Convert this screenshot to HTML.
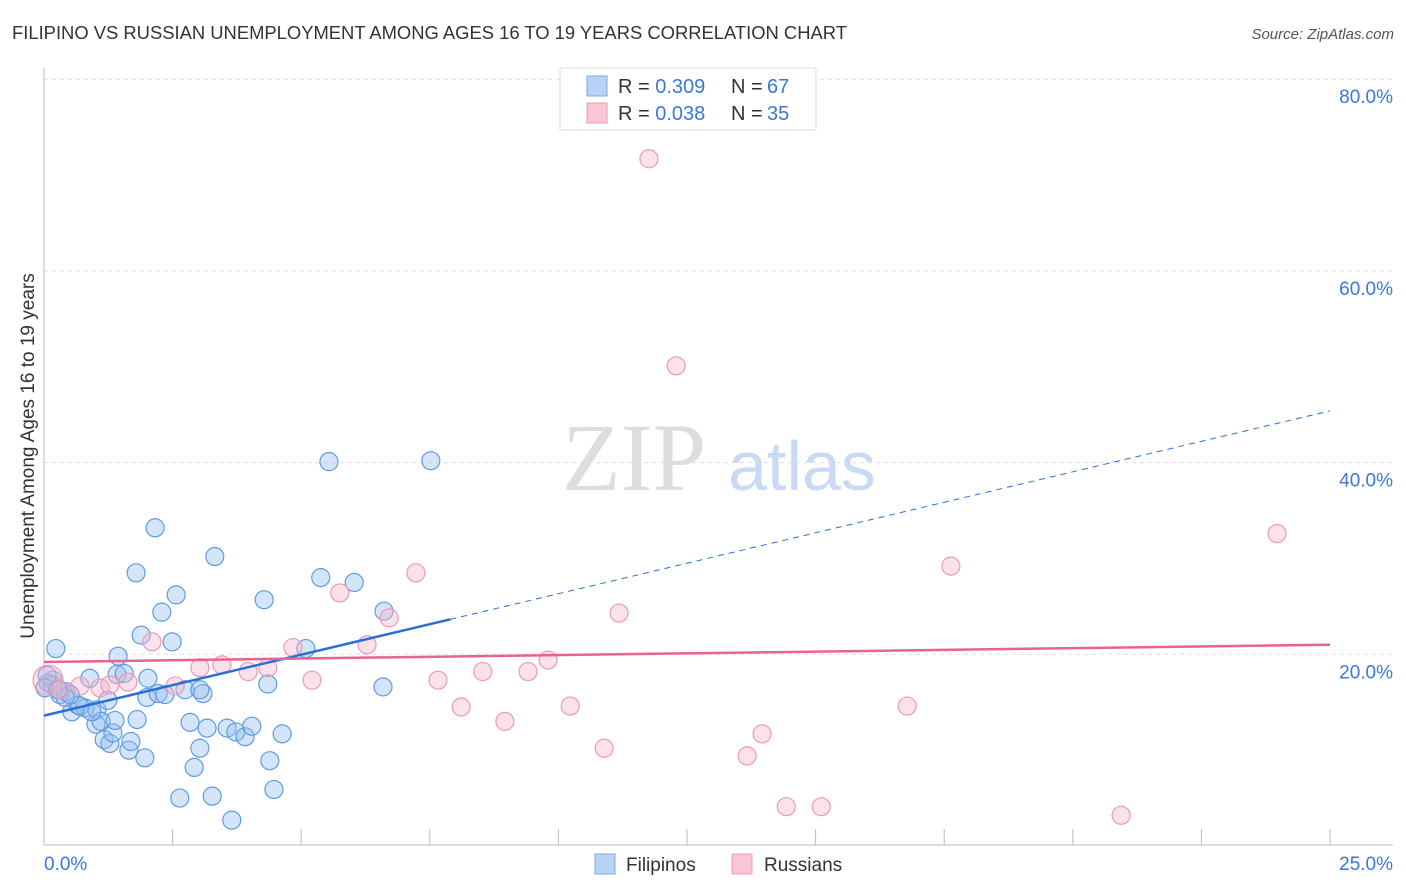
<!DOCTYPE html>
<html><head><meta charset="utf-8"><style>
body{margin:0;background:#fff;font-family:"Liberation Sans",sans-serif}
svg{display:block}
</style></head><body>
<svg id="c" width="1406" height="892">
<text x="12" y="39" font-size="18.4" fill="#333">FILIPINO VS RUSSIAN UNEMPLOYMENT AMONG AGES 16 TO 19 YEARS CORRELATION CHART</text>
<text x="1394" y="39" font-size="15" fill="#555" font-style="italic" text-anchor="end">Source: ZipAtlas.com</text>
<text x="34" y="456" font-size="19" fill="#333" text-anchor="middle" transform="rotate(-90 34 456)">Unemployment Among Ages 16 to 19 years</text>
<g>
<text x="634" y="490" font-size="96" fill="#ddd" font-family="Liberation Serif" text-anchor="middle">ZIP</text>
<text x="802" y="490" font-size="70" fill="#c9dbf3" text-anchor="middle">atlas</text>
</g>
<g id="grid"></g><g id="axes"></g><g id="pts"></g><g id="lines"></g>
<g>
<rect x="560" y="68" width="256" height="62" fill="#fff" stroke="#ddd"/>
<rect x="587" y="76" width="20" height="20" fill="#b9d3f5" stroke="#7aaae8"/>
<text x="618" y="93" font-size="20" fill="#333">R = <tspan fill="#3b78d8">0.309</tspan></text>
<text x="731" y="93" font-size="20" fill="#333">N = </text>
<text x="767" y="93" font-size="20" fill="#3b78d8">67</text>
<rect x="587" y="103" width="20" height="20" fill="#f8c6d4" stroke="#ee9bb5"/>
<text x="618" y="120" font-size="20" fill="#333">R = <tspan fill="#3b78d8">0.038</tspan></text>
<text x="731" y="120" font-size="20" fill="#333">N = </text>
<text x="767" y="120" font-size="20" fill="#3b78d8">35</text>
</g>
<g>
<rect x="595" y="854" width="20" height="20" fill="#b9d3f5" stroke="#7aaae8"/>
<text x="626" y="871" font-size="19" fill="#333">Filipinos</text>
<rect x="732" y="854" width="20" height="20" fill="#f8c6d4" stroke="#ee9bb5"/>
<text x="764" y="871" font-size="19" fill="#333">Russians</text>
</g>
</svg>
<script>
const yTicks=[20,40,60,80];
const yTickLabels=["20.0%","40.0%","60.0%","80.0%"];
const xTicks=[0,2.5,5,7.5,10,12.5,15,17.5,20,22.5,25];
const blueX=[0.17,0.23,0.08,0.31,0.43,0.54,0.66,0.80,0.89,1.03,1.01,1.11,1.17,1.28,1.34,1.44,1.42,1.56,1.65,1.69,1.81,1.79,1.89,1.96,2.00,2.02,2.16,2.22,2.29,2.35,2.49,2.57,2.64,2.74,2.84,2.92,3.03,3.09,3.17,3.27,3.32,3.56,3.65,3.73,3.91,4.04,4.28,4.35,4.39,4.47,4.63,5.09,5.38,5.54,6.03,6.59,6.61,7.52,0.16,0.06,0.41,0.70,0.93,1.24,1.38,3.03,0.51,0.02,0.27];
const blueY=[17.3,20.6,17.0,15.8,16.1,14.0,14.7,14.4,17.5,14.2,12.7,13.0,11.1,10.7,11.8,19.8,17.9,18.0,10.0,10.9,13.2,28.5,22.0,9.2,15.5,17.5,33.2,15.9,24.4,15.8,21.3,26.2,5.0,16.3,12.9,8.2,10.2,15.9,12.3,5.2,30.2,12.3,2.7,11.9,11.4,12.5,25.7,16.9,8.9,5.9,11.7,20.6,28.0,40.1,27.5,16.6,24.5,40.2,16.8,17.8,15.5,14.6,14.0,15.2,13.1,16.3,15.8,16.5,16.3];
const pinkX=[0.08,0.31,0.70,1.09,1.28,1.63,2.10,2.55,3.03,3.46,3.97,4.35,4.84,5.21,5.75,6.28,6.71,7.23,7.66,8.11,8.53,8.96,9.41,9.80,10.23,10.89,11.18,11.76,12.29,13.67,13.96,14.43,15.11,16.78,17.63,20.94,23.97];
const pinkY=[17.3,16.3,16.7,16.5,16.8,17.1,21.3,16.7,18.6,18.9,18.2,18.6,20.7,17.3,26.4,21.0,23.8,28.5,17.3,14.5,18.2,13.0,18.2,19.4,14.6,10.2,24.3,71.7,50.1,9.4,11.7,4.1,4.1,14.6,29.2,3.2,32.6];
const blueFit=[13.6,45.4,7.9];
const pinkFit=[19.2,21.0];
const X=v=>44+v/25*1286, Y=v=>846-v/20*191.7;
const NS="http://www.w3.org/2000/svg";
function mk(p,t,a){const e=document.createElementNS(NS,t);for(const k in a)e.setAttribute(k,a[k]);p.appendChild(e);return e;}
const g=document.getElementById('grid'),ax=document.getElementById('axes'),pts=document.getElementById('pts'),ln=document.getElementById('lines');
yTicks.forEach((t,i)=>{const l=mk(g,'line',{x1:44,x2:1393,y1:Y(t),y2:Y(t),stroke:'#ddd','stroke-dasharray':'4 4'});


const tx=mk(g,'text',{x:1393,y:Y(t)+24,'font-size':19,fill:'#3b78d8','text-anchor':'end'});tx.textContent=yTickLabels[i];

});
const a1=mk(ax,'line',{x1:44,x2:44,y1:68,y2:845,stroke:'#bbb'});


const a2=mk(ax,'line',{x1:44,x2:1393,y1:845,y2:845,stroke:'#bbb'});


xTicks.forEach(t=>{const l=mk(ax,'line',{x1:X(t),x2:X(t),y1:829,y2:845,stroke:'#bbb'});

});
const xl0=mk(ax,'text',{x:44,y:870,'font-size':19,fill:'#3b78d8'});xl0.textContent='0.0%';


const xl1=mk(ax,'text',{x:1393,y:870,'font-size':19,fill:'#3b78d8','text-anchor':'end'});xl1.textContent='25.0%';


blueX.forEach((x,i)=>{const c=mk(pts,'circle',{cx:X(x),cy:Y(blueY[i]),r:9,fill:'rgba(150,190,240,0.4)',stroke:'#5e9be3','stroke-width':1.2});

});
pinkX.forEach((x,i)=>{const c=mk(pts,'circle',{cx:X(x),cy:Y(pinkY[i]),r:i==0?15:9,fill:'rgba(246,180,200,0.4)',stroke:'#ec9ab4','stroke-width':1.2});

});
const by=x=>blueFit[0]+(blueFit[1]-blueFit[0])*x/25;
const b1=mk(ln,'line',{x1:X(0),y1:Y(by(0)),x2:X(blueFit[2]),y2:Y(by(blueFit[2])),stroke:'#2a6fd6','stroke-width':2.5});


const b2=mk(ln,'line',{x1:X(blueFit[2]),y1:Y(by(blueFit[2])),x2:X(25),y2:Y(by(25)),stroke:'#2a6fd6','stroke-width':1,'stroke-dasharray':'6 5'});


const p1=mk(ln,'line',{x1:X(0),y1:Y(pinkFit[0]),x2:X(25),y2:Y(pinkFit[1]),stroke:'#e8638f','stroke-width':2.5});


</script>
</body></html>
